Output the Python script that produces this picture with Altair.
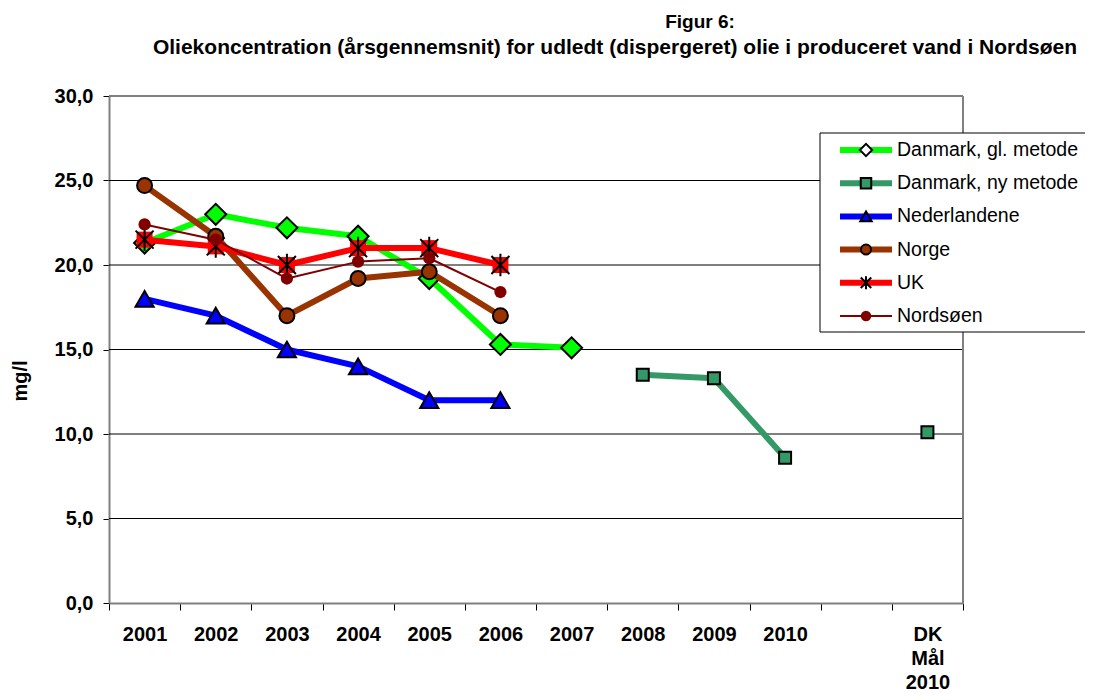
import altair as alt
import pandas as pd

# ---------------- data ----------------
categories = ["2001", "2002", "2003", "2004", "2005", "2006", "2007",
              "2008", "2009", "2010", " ", "DK Mål 2010"]
series = ["Danmark, gl. metode", "Danmark, ny metode", "Nederlandene",
          "Norge", "UK", "Nordsøen"]
colors = ["#00FF00", "#339966", "#0000FF", "#993300", "#FF0000", "#800000"]

dk_gl = [21.3, 23.0, 22.2, 21.7, 19.2, 15.3, 15.1, None, None, None, None, None]
dk_ny = [None, None, None, None, None, None, None, 13.5, 13.3, 8.6, None, 10.1]
nederlandene = [18.0, 17.0, 15.0, 14.0, 12.0, 12.0, None, None, None, None, None, None]
norge = [24.7, 21.7, 17.0, 19.2, 19.6, 17.0, None, None, None, None, None, None]
uk = [21.5, 21.1, 20.0, 21.0, 21.0, 20.0, None, None, None, None, None, None]
nordsoen = [22.4, 21.5, 19.2, 20.2, 20.4, 18.4, None, None, None, None, None, None]

y_ticks = [0, 5, 10, 15, 20, 25, 30]

title1 = "Figur 6:"
title2 = "Oliekoncentration (årsgennemsnit) for udledt (dispergeret) olie i produceret vand i Nordsøen"
y_title = "mg/l"

values = dict(zip(series, [dk_gl, dk_ny, nederlandene, norge, uk, nordsoen]))

rows = []
for s in series:
    seg, prev = 0, None
    for c, v in zip(categories, values[s]):
        if v is None:
            if prev is not None:
                seg += 1
            prev = None
            continue
        rows.append({"cat": c, "val": v, "series": s, "seg": f"{s}-{seg}"})
        prev = v
df = pd.DataFrame(rows)
grid_df = pd.DataFrame({"val": [t for t in y_ticks if 0 < t < max(y_ticks)]})
top_df = pd.DataFrame({"val": [max(y_ticks)]})
one = pd.DataFrame({"k": [0]})

# ---------------- styles ----------------
FONT = "Liberation Sans"
W, H = 854, 507
ASTERISK = "M-1,-1L1,1M-1,1L1,-1M0,-1.25L0,1.25"
style = {
    "Danmark, gl. metode": dict(shape="diamond", size=441, stroke="black", sw=2, lw=6, lsize=150),
    "Danmark, ny metode": dict(shape="square", size=144, stroke="black", sw=2, lw=6, lsize=110),
    "Nederlandene": dict(shape="triangle-up", size=330, stroke="black", sw=2, lw=6, lsize=130),
    "Norge": dict(shape="circle", size=225, stroke="black", sw=2, lw=6, lsize=100),
    "UK": dict(shape="square", size=256, stroke="#FF0000", sw=0, lw=6, lsize=0),
    "Nordsøen": dict(shape="circle", size=150, stroke="#800000", sw=0, lw=2, lsize=110),
}

x_enc = alt.X(
    "cat:N",
    scale=alt.Scale(type="band", domain=categories, paddingInner=0, paddingOuter=0),
    bandPosition=0.5,
    title=None,
    axis=alt.Axis(
        tickBand="extent", ticks=True, tickSize=7, tickColor="black", tickWidth=1,
        domainColor="#808080", domainWidth=2, grid=False,
        labelFont=FONT, labelFontWeight="bold", labelFontSize=20, labelColor="black",
        labelPadding=14, labelAngle=0, labelLineHeight=24, labelOverlap=False,
        labelExpr="split(datum.label, ' ')",
    ),
)
y_enc = alt.Y(
    "val:Q",
    scale=alt.Scale(domain=[min(y_ticks), max(y_ticks)], nice=False, zero=True),
    title=None,
    axis=alt.Axis(
        values=y_ticks, tickSize=6, tickColor="black", tickWidth=1,
        domainColor="#808080", domainWidth=2, grid=False,
        labelFont=FONT, labelFontWeight="bold", labelFontSize=20, labelColor="black",
        labelPadding=10, labelExpr="replace(format(datum.value, '.1f'), '.', ',')",
    ),
)

layers = []
# gridlines and frame
layers.append(alt.Chart(grid_df).mark_rule(color="black", strokeWidth=1).encode(y=y_enc))
layers.append(alt.Chart(top_df).mark_rule(color="#808080", strokeWidth=2).encode(y=y_enc))
layers.append(alt.Chart(one).mark_rule(color="#808080", strokeWidth=2).encode(
    x=alt.value(W), y=alt.value(0), y2=alt.value(H)))

# series
for s, col in zip(series, colors):
    st = style[s]
    sub = df[df.series == s]
    layers.append(alt.Chart(sub).mark_line(color=col, strokeWidth=st["lw"], strokeJoin="round").encode(
        x=x_enc, y=y_enc, detail="seg:N"))
    layers.append(alt.Chart(sub).mark_point(
        shape=st["shape"], size=st["size"], filled=True, fill=col, stroke=st["stroke"],
        strokeWidth=st["sw"], opacity=1).encode(x=x_enc, y=y_enc))
    if s == "UK":
        layers.append(alt.Chart(sub).mark_point(
            shape=ASTERISK, size=324, filled=False, stroke="black", strokeWidth=2,
            opacity=1).encode(x=x_enc, y=y_enc))

# legend
layers.append(alt.Chart(one).mark_rect(fill="white", stroke="black", strokeWidth=1).encode(
    x=alt.value(711), x2=alt.value(1100), y=alt.value(37), y2=alt.value(236)))
for i, (s, col) in enumerate(zip(series, colors)):
    st = style[s]
    yy = 54 + 33.2 * i
    layers.append(alt.Chart(one).mark_rule(color=col, strokeWidth=st["lw"]).encode(
        x=alt.value(731), x2=alt.value(783), y=alt.value(yy)))
    if s == "UK":
        layers.append(alt.Chart(one).mark_point(
            shape=ASTERISK, size=110, filled=False, stroke="black", strokeWidth=2, opacity=1).encode(
            x=alt.value(757), y=alt.value(yy)))
    else:
        fill = "white" if s == "Danmark, gl. metode" else col
        layers.append(alt.Chart(one).mark_point(
            shape=st["shape"], size=st["lsize"], filled=True, fill=fill, stroke=st["stroke"],
            strokeWidth=st["sw"], opacity=1).encode(x=alt.value(757), y=alt.value(yy)))
    layers.append(alt.Chart(one).mark_text(
        align="left", baseline="middle", font=FONT, fontSize=19.5, color="black").encode(
        x=alt.value(788), y=alt.value(yy), text=alt.value(s)))

# titles
layers.append(alt.Chart(one).mark_text(
    align="center", baseline="middle", font=FONT, fontSize=19, fontWeight="bold", color="black").encode(
    x=alt.value(591), y=alt.value(-74), text=alt.value(title1)))
layers.append(alt.Chart(one).mark_text(
    align="center", baseline="middle", font=FONT, fontSize=21, fontWeight="bold", color="black").encode(
    x=alt.value(506), y=alt.value(-48), text=alt.value(title2)))
layers.append(alt.Chart(one).mark_text(
    align="center", baseline="middle", font=FONT, fontSize=20, fontWeight="bold", color="black",
    angle=270).encode(x=alt.value(-88), y=alt.value(285), text=alt.value(y_title)))

chart = alt.layer(*layers).properties(
    width=W, height=H,
    autosize=alt.AutoSizeParams(type="none"),
    padding={"left": 101, "top": 88, "right": 122, "bottom": 89},
    background="white",
).configure_view(stroke=None)

chart.save("out.html", embed_options={"renderer": "svg", "actions": False})
